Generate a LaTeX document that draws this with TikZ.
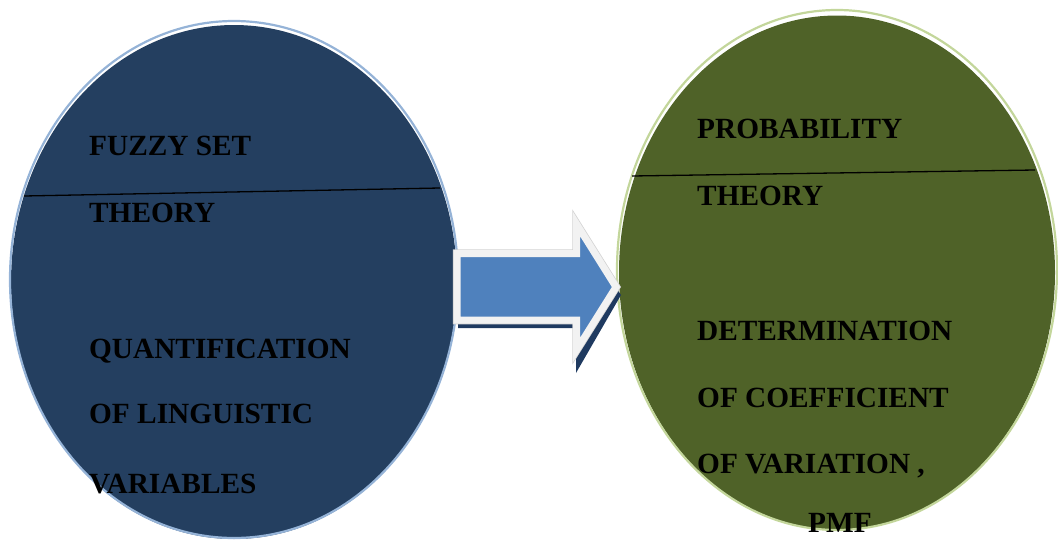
\documentclass[tikz,border=0pt]{standalone}
\usepackage{fontspec}
\setmainfont{Liberation Serif}
\usetikzlibrary{shapes.geometric}
\definecolor{fuzzyblue}{HTML}{243F60}
\definecolor{fuzzyedge}{HTML}{95B3D7}
\definecolor{probgreen}{HTML}{4F6228}
\definecolor{probedge}{HTML}{C3D69B}
\definecolor{arrowblue}{HTML}{4F81BD}
\definecolor{arrowrim}{HTML}{F2F2F2}
\definecolor{arrowshade}{HTML}{1F3A60}
\tikzset{
  lbl/.style={anchor=base west, inner sep=0pt, font=\fontsize{29.3}{29.3}\selectfont\bfseries},
  blob/.style={ellipse, inner sep=0pt, draw=none},
  divider/.style={black, line width=1.3pt}
}
\begin{document}
\begin{tikzpicture}[x=1pt, y=-1pt]
    \useasboundingbox (0,0) rectangle (1058,541);
    % left set
    \node[blob, fill=fuzzyblue, minimum width=446, minimum height=514] (fuzzy) at (234,282) {};
    \draw[fuzzyedge, line width=2.2pt] (234,279.5) ellipse[x radius=224, y radius=258.5];
    \draw[divider] (24,196) -- (440,188);
    \node[lbl] (fuzzytitle) at (89,155) {FUZZY SET};
    \node[lbl] (fuzzytheory) at (89,222) {THEORY};
    \node[lbl] (quant) at (89,358) {QUANTIFICATION};
    \node[lbl] (ling) at (89,423) {OF LINGUISTIC};
    \node[lbl] (vars) at (89,493) {VARIABLES};
    % right set
    \node[blob, fill=probgreen, minimum width=436, minimum height=514] (prob) at (837,272.5) {};
    \draw[probedge, line width=2.2pt] (837,270) ellipse[x radius=220, y radius=260];
    \draw[divider] (632,176) -- (1035,170);
    \node[lbl] (probtitle) at (697,138) {PROBABILITY};
    \node[lbl] (probtheory) at (697,205) {THEORY};
    \node[lbl] (determ) at (697,340) {DETERMINATION};
    \node[lbl] (coeff) at (697,407) {OF COEFFICIENT};
    \node[lbl] (variation) at (697,473) {OF VARIATION ,};
    \node[lbl] (pmf) at (808,532) {PMF};
    % block arrow
    \fill[arrowshade] (460,262) -- (578,262) -- (578,232) -- (621,295) -- (576,373) -- (576,328) -- (458,328) -- cycle;
    \draw[gray!35, line width=8.5pt, line join=miter] (457,253.5) -- (576.5,253.5) -- (576.5,224) -- (616,287) -- (576.5,350) -- (576.5,320) -- (457,320) -- cycle;
    \draw[arrowrim, fill=arrowblue, line width=7pt, line join=miter] (457,253.5) -- (576.5,253.5) -- (576.5,224) -- (616,287) -- (576.5,350) -- (576.5,320) -- (457,320) -- cycle;
\end{tikzpicture}
\end{document}
